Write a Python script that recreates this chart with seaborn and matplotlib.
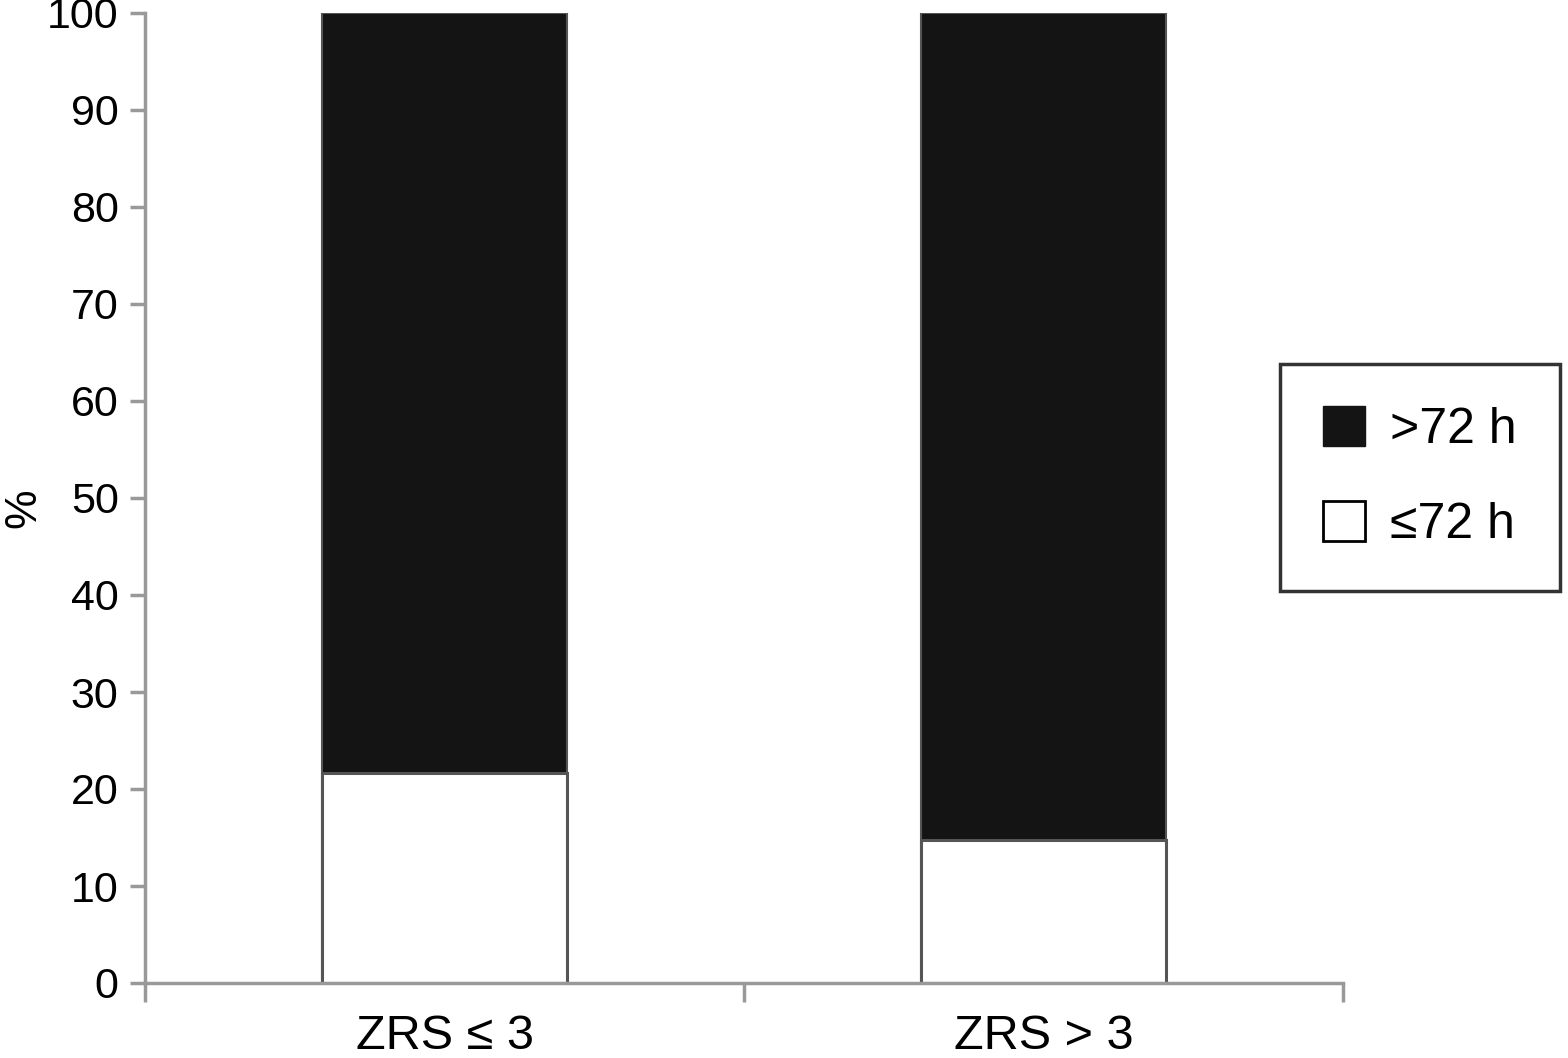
import matplotlib
matplotlib.use("Agg")
import matplotlib.pyplot as plt
from matplotlib.patches import Patch
import seaborn as sns
import pandas as pd

# data
groups = ["ZRS \u2264 3", "ZRS > 3"]
total_pct = [100, 100]
le72_pct = [21.7, 14.7]
legend_labels = [">72 h", "\u226472 h"]

sns.set_style("white")
plt.rcParams['font.family'] = ['Liberation Sans', 'DejaVu Sans']
plt.rcParams['text.color'] = 'black'
plt.rcParams['axes.labelcolor'] = 'black'

df = pd.DataFrame({"group": groups, "total": total_pct, "le72": le72_pct})

fig = plt.figure(figsize=(15.68, 10.58), dpi=100)
ax = fig.add_axes([145/1568, 1 - 983/1058, (1343 - 145)/1568, (983 - 13)/1058])

edge = "#555555"
# full bar (>72 h on top) then the lower white part
sns.barplot(data=df, x="group", y="total", color="#141414", width=0.41,
            edgecolor=edge, linewidth=1.5, saturation=1, errorbar=None, ax=ax)
sns.barplot(data=df, x="group", y="le72", color="white", width=0.41,
            edgecolor=edge, linewidth=2.2, saturation=1, errorbar=None, ax=ax)

ax.set_xlim(-0.5, 1.5)
ax.set_ylim(0, 100)
ax.set_yticks(range(0, 101, 10))
ax.tick_params(axis="y", labelsize=31, length=11, width=2.5, color="#999999",
               labelcolor="black", pad=8, left=True)

# category boundaries as major ticks, labels on minor ticks
ax.set_xticks([-0.5, 0.5, 1.5])
ax.set_xticklabels(["", "", ""])
ax.set_xticks([0, 1], minor=True)
ax.set_xticklabels(groups, minor=True, fontsize=35)
ax.tick_params(axis="x", which="major", length=14, width=2.5, color="#999999", bottom=True)
ax.tick_params(axis="x", which="minor", length=0, pad=22, labelcolor="black")

for s in ["top", "right"]:
    ax.spines[s].set_visible(False)
for s in ["left", "bottom"]:
    ax.spines[s].set_color("#999999")
    ax.spines[s].set_linewidth(2.5)

ax.set_xlabel("")
ax.set_ylabel("%", fontsize=32)
ax.yaxis.set_label_coords(-0.084, 0.49)

handles = [Patch(facecolor="#141414", edgecolor="#141414"),
           Patch(facecolor="white", edgecolor="black", linewidth=2)]
leg = fig.legend(handles, legend_labels, loc="center",
                 bbox_to_anchor=(1420/1568, 1 - 477/1058), fontsize=36,
                 frameon=True, fancybox=False, edgecolor="black",
                 handlelength=0.85, handleheight=0.85, handletextpad=0.5,
                 labelspacing=0.95, borderpad=0.85, borderaxespad=0)
leg.get_frame().set_linewidth(2.5)

fig.savefig("out.png", dpi=100)
